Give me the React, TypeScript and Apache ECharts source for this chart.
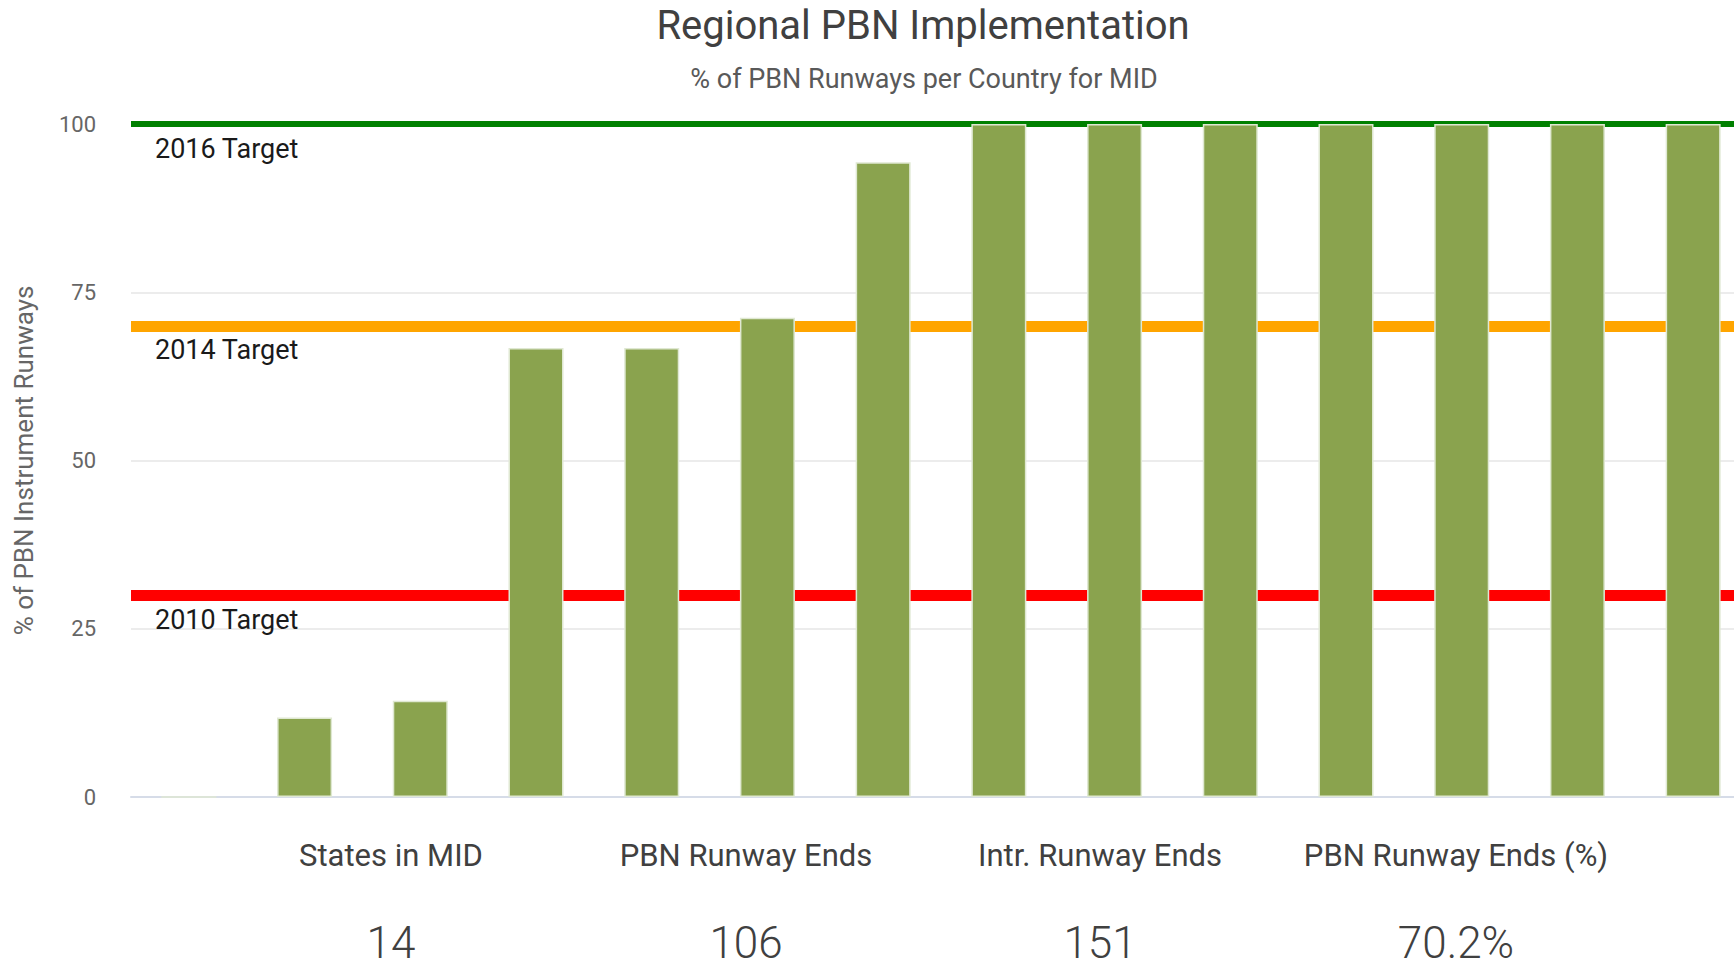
import React, { useEffect, useRef } from "react";
import * as echarts from "echarts";

const states = ["1", "2", "3", "4", "5", "6", "7", "8", "9", "10", "11", "12", "13", "14"];
const pbnPercent = [0, 11.8, 14.3, 66.7, 66.7, 71.2, 94.3, 100, 100, 100, 100, 100, 100, 100];
const targetNames = ["2016 Target", "2014 Target", "2010 Target"];
const targetValues = [100, 70, 30];
const targetColors = ["#008000", "#FFA500", "#FF0000"];
const targetWidths = [6, 11, 11];
const yTicks = [0, 25, 50, 75, 100];
const summaryLabels = ["States in MID", "PBN Runway Ends", "Intr. Runway Ends", "PBN Runway Ends (%)"];
const summaryValues = ["14", "106", "151", "70.2%"];

const FONT = "Roboto, 'Noto Sans', sans-serif";

export default function App() {
  const ref = useRef<HTMLDivElement>(null);
  useEffect(() => {
    if (!ref.current) return;
    const chart = echarts.init(ref.current, undefined, { renderer: "svg" });
    const summaryX = [391, 746, 1100, 1456];
    const graphic: any[] = [
      {
        type: "text",
        x: 923,
        y: 25,
        style: { text: "Regional PBN Implementation", font: `40px ${FONT}`, fill: "#404040", textAlign: "center", textVerticalAlign: "middle" },
      },
      {
        type: "text",
        x: 924,
        y: 79,
        style: { text: "% of PBN Runways per Country for MID", font: `27px ${FONT}`, fill: "#595959", textAlign: "center", textVerticalAlign: "middle" },
      },
    ];
    summaryLabels.forEach((l, i) => {
      graphic.push({
        type: "text",
        x: summaryX[i],
        y: 855,
        style: { text: l, font: `31px ${FONT}`, fill: "#404040", textAlign: "center", textVerticalAlign: "middle" },
      });
      graphic.push({
        type: "text",
        x: summaryX[i],
        y: 943,
        style: { text: summaryValues[i], font: `300 44px ${FONT}`, fill: "#404040", textAlign: "center", textVerticalAlign: "middle" },
      });
    });

    chart.setOption({
      animation: false,
      textStyle: { fontFamily: FONT },
      grid: { left: 131, right: 0, top: 124, bottom: 173 },
      xAxis: {
        type: "category",
        data: states,
        axisLine: { show: true, lineStyle: { color: "#d6dce8", width: 2 } },
        axisTick: { show: false },
        axisLabel: { show: false },
        splitLine: { show: false },
      },
      yAxis: {
        type: "value",
        min: yTicks[0],
        max: yTicks[yTicks.length - 1],
        interval: 25,
        name: "% of PBN Instrument Runways",
        nameLocation: "middle",
        nameRotate: 90,
        nameGap: 94,
        nameTextStyle: { fontSize: 26, color: "#666666", fontFamily: FONT },
        axisLine: { show: false },
        axisTick: { show: false },
        axisLabel: { fontSize: 22, color: "#666666", margin: 35, fontFamily: FONT },
        splitLine: { lineStyle: { color: "#e6e6e6", width: 1.5 } },
      },
      series: [
        {
          type: "line",
          data: [],
          z: 1,
          silent: true,
          markLine: {
            silent: true,
            z: 1,
            symbol: "none",
            animation: false,
            data: targetValues.map((v, i) => ({
              name: targetNames[i],
              yAxis: v,
              lineStyle: { color: targetColors[i], width: targetWidths[i], type: "solid" },
              label: {
                show: true,
                position: "insideStartBottom",
                formatter: targetNames[i],
                distance: [24, 11],
                fontSize: 27,
                color: "#1a1a1a",
                fontFamily: FONT,
              },
            })),
          },
        },
        {
          type: "bar",
          data: pbnPercent,
          z: 3,
          barWidth: 55,
          itemStyle: { color: "#8aa34e", borderColor: "#dfe8d2", borderWidth: 1.5 },
        },
      ],
      graphic,
    });
    return () => chart.dispose();
  }, []);
  return (
    <div style={{ position: "absolute", left: 0, top: 0, width: 1734, height: 970, overflow: "hidden", background: "#fff" }}>
      <div ref={ref} style={{ width: 1751, height: 970 }} />
    </div>
  );
}
